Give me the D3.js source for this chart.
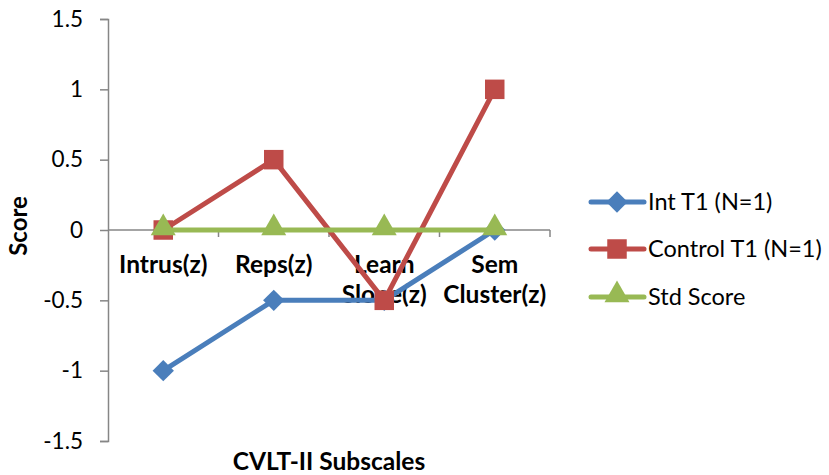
<!DOCTYPE html>
<html>
<head>
<meta charset="utf-8">
<script src="https://cdn.jsdelivr.net/npm/d3@7"></script>
<style>
  body { margin: 0; background: #fff; }
  text { font-family: Lato, "Open Sans", sans-serif; fill: #000; }
</style>
</head>
<body>
<div id="chart"></div>
<script>
// 資料
const categories = ["Intrus(z)", "Reps(z)", "Learn Slope(z)", "Sem Cluster(z)"];
const categoryLines = [["Intrus(z)"], ["Reps(z)"], ["Learn", "Slope(z)"], ["Sem", "Cluster(z)"]];
const intT1 = [-1, -0.5, -0.5, 0];
const controlT1 = [0, 0.5, -0.5, 1];
const stdScore = [0, 0, 0, 0];
const seriesNames = ["Int T1 (N=1)", "Control T1 (N=1)", "Std Score"];
const yTicks = [-1.5, -1, -0.5, 0, 0.5, 1, 1.5];

const width = 829, height = 475;
const colors = ["#4A7EBB", "#BE4B48", "#98B954"];
const symbols = [d3.symbolDiamond2, d3.symbolSquare, d3.symbolTriangle];
const symSizes = [290, 380, 270];

const svg = d3.select("#chart").append("svg")
    .attr("width", width)
    .attr("height", height);

const x = d3.scaleBand().domain(categories).range([108, 550]);
const y = d3.scaleLinear().domain([-1.5, 1.5]).range([441, 19]);

const axisColor = "#868686";

// Y 軸
const yAxis = svg.append("g")
    .attr("transform", "translate(108,0)")
    .call(d3.axisLeft(y).tickValues(yTicks).tickSize(8).tickPadding(17)
        .tickFormat(d => String(d)));
yAxis.select(".domain").attr("stroke", axisColor).attr("stroke-width", 1.5);
yAxis.selectAll(".tick line").attr("stroke", axisColor).attr("stroke-width", 1.5);
yAxis.selectAll(".tick text").style("font-size", "22.5px").attr("fill", "#000");

// X 軸 (y = 0)
const xAxisG = svg.append("g");
xAxisG.append("line")
    .attr("x1", 108).attr("x2", 550)
    .attr("y1", y(0)).attr("y2", y(0))
    .attr("stroke", axisColor).attr("stroke-width", 1.5);
const bounds = categories.map(c => x(c) + x.bandwidth());
xAxisG.selectAll(".xtick")
    .data(bounds)
    .enter().append("line")
    .attr("x1", d => d).attr("x2", d => d)
    .attr("y1", y(0)).attr("y2", y(0) + 7)
    .attr("stroke", axisColor).attr("stroke-width", 1.5);

// 類別標籤
categories.forEach((c, i) => {
  const t = svg.append("text")
      .attr("x", x(c) + x.bandwidth() / 2)
      .attr("y", 273)
      .attr("text-anchor", "middle")
      .style("font-size", "24.5px")
      .style("font-weight", "bold");
  categoryLines[i].forEach((line, j) => {
    t.append("tspan")
        .attr("x", x(c) + x.bandwidth() / 2)
        .attr("dy", j === 0 ? 0 : 30)
        .text(line);
  });
});

// 系列
const allSeries = [intT1, controlT1, stdScore];
const line = d3.line()
    .x((d, i) => x(categories[i]) + x.bandwidth() / 2)
    .y(d => y(d));

allSeries.forEach((vals, s) => {
  const g = svg.append("g");
  g.append("path")
      .datum(vals)
      .attr("d", line)
      .attr("fill", "none")
      .attr("stroke", colors[s])
      .attr("stroke-width", 5)
      .attr("stroke-linejoin", "round");
  g.selectAll(".pt")
      .data(vals)
      .enter().append("path")
      .attr("transform", (d, i) => `translate(${x(categories[i]) + x.bandwidth() / 2},${y(d) - (s === 2 ? 2 : 0)})`)
      .attr("d", d3.symbol().type(symbols[s]).size(symSizes[s]))
      .attr("fill", colors[s]);
});

// 軸標題
svg.append("text")
    .attr("transform", "translate(27,226) rotate(-90)")
    .attr("text-anchor", "middle")
    .style("font-size", "24px")
    .style("font-weight", "bold")
    .text("Score");

svg.append("text")
    .attr("x", 329)
    .attr("y", 470)
    .attr("text-anchor", "middle")
    .style("font-size", "24.5px")
    .style("font-weight", "bold")
    .text("CVLT-II Subscales");

// 圖例
const legendY = [202, 249, 297];
seriesNames.forEach((name, s) => {
  const g = svg.append("g").attr("transform", `translate(0,${legendY[s]})`);
  g.append("line")
      .attr("x1", 591).attr("x2", 644)
      .attr("stroke", colors[s]).attr("stroke-width", 5)
      .attr("stroke-linecap", "round");
  g.append("path")
      .attr("transform", `translate(617,${s === 2 ? -2 : 0})`)
      .attr("d", d3.symbol().type(symbols[s]).size(symSizes[s]))
      .attr("fill", colors[s]);
  g.append("text")
      .attr("x", 648)
      .attr("y", 0)
      .attr("dy", "0.35em")
      .style("font-size", "23.5px")
      .text(name);
});
</script>
</body>
</html>
